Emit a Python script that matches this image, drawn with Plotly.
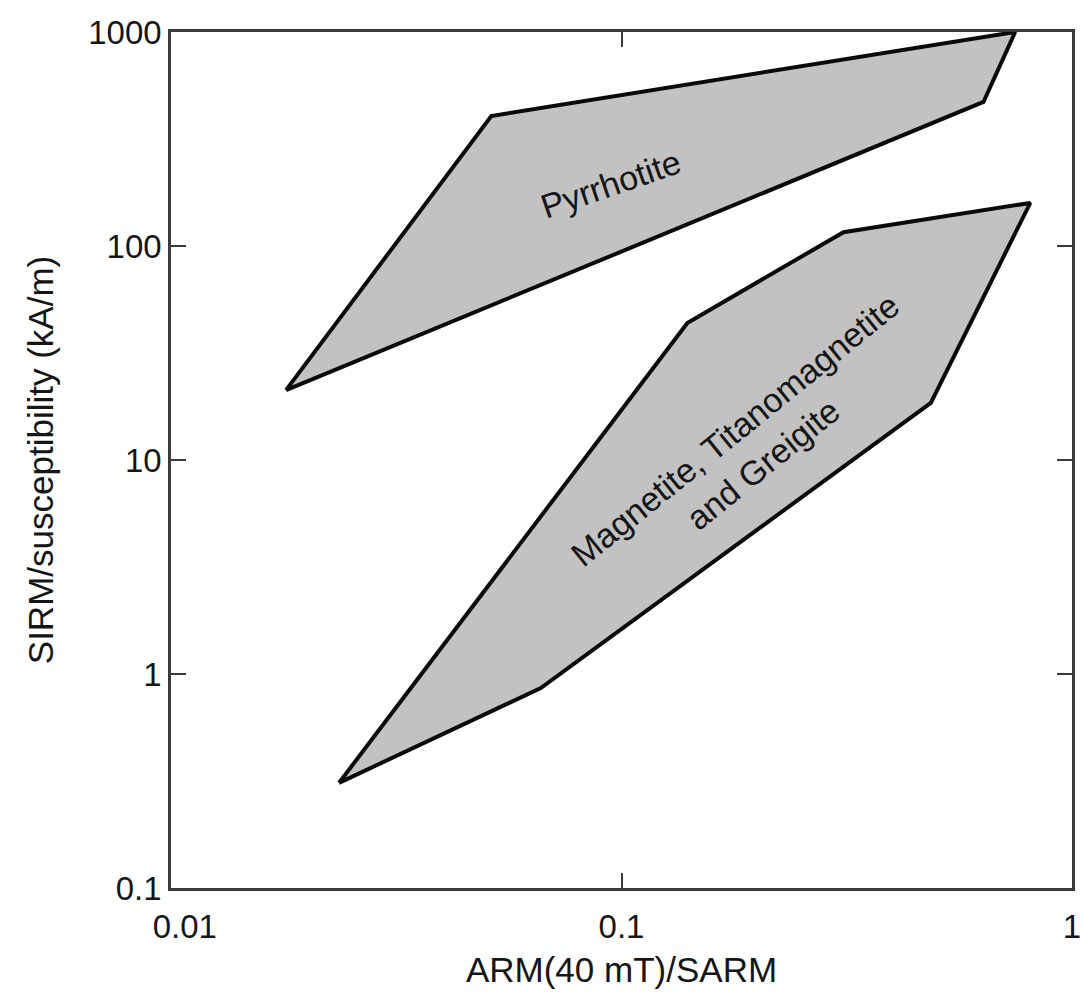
import plotly.graph_objects as go

# Region outlines (x = ARM(40 mT)/SARM, y = SIRM/susceptibility kA/m)
pyrrhotite_x = [0.0180, 0.0514, 0.748, 0.636, 0.0180]
pyrrhotite_y = [21.2, 405, 1000, 471, 21.2]

magnetite_x = [0.0236, 0.0662, 0.486, 0.808, 0.311, 0.140, 0.0236]
magnetite_y = [0.31, 0.86, 18.5, 159, 116, 43.7, 0.31]

x_tickvals = [0.01, 0.1, 1]
x_ticktext = ["\u00a0\u00a0\u00a00.01", "0.1", "1"]
y_tickvals = [0.1, 1, 10, 100, 1000]
y_ticktext = ["0.1", "1", "10", "100", "1000"]

FILL = "#c2c2c2"
FONT = "Liberation Sans, Arial, sans-serif"
TXT = "#151515"

fig = go.Figure()
fig.add_trace(go.Scatter(x=pyrrhotite_x, y=pyrrhotite_y, mode="lines", fill="toself",
                         fillcolor=FILL, line=dict(color="#0a0a0a", width=4),
                         hoverinfo="skip", showlegend=False))
fig.add_trace(go.Scatter(x=magnetite_x, y=magnetite_y, mode="lines", fill="toself",
                         fillcolor=FILL, line=dict(color="#0a0a0a", width=4),
                         hoverinfo="skip", showlegend=False))

fig.add_annotation(x=-1.024, y=2.29, xref="x", yref="y", text="Pyrrhotite",
                   showarrow=False, textangle=-19,
                   font=dict(family=FONT, size=34, color=TXT))
fig.add_annotation(x=-0.717, y=1.06, xref="x", yref="y",
                   text="Magnetite, Titanomagnetite<br>and Greigite",
                   showarrow=False, textangle=-39,
                   font=dict(family=FONT, size=34, color=TXT))

axis_common = dict(type="log", showgrid=False, zeroline=False, showline=True,
                   linecolor="#3a3a3a", linewidth=2.5, mirror="ticks",
                   ticks="inside", ticklen=15, tickwidth=2, tickcolor="#3a3a3a",
                   tickfont=dict(family=FONT, size=33, color=TXT),
                   ticklabeloverflow="allow", automargin=False)

fig.update_xaxes(range=[-2, 0], tickvals=x_tickvals, ticktext=x_ticktext,
                 ticklabelstandoff=8,
                 title=dict(text="ARM(40 mT)/SARM", standoff=14,
                            font=dict(family=FONT, size=35, color=TXT)),
                 **axis_common)
fig.update_yaxes(range=[-1, 3], tickvals=y_tickvals, ticktext=y_ticktext,
                 title=dict(text="SIRM/susceptibility (kA/m)", standoff=24,
                            font=dict(family=FONT, size=35, color=TXT)),
                 **axis_common)

fig.update_layout(width=1084, height=996,
                  margin=dict(l=171, r=12, t=32, b=108),
                  paper_bgcolor="white", plot_bgcolor="white",
                  font=dict(family=FONT))

fig.write_html("out.html")
